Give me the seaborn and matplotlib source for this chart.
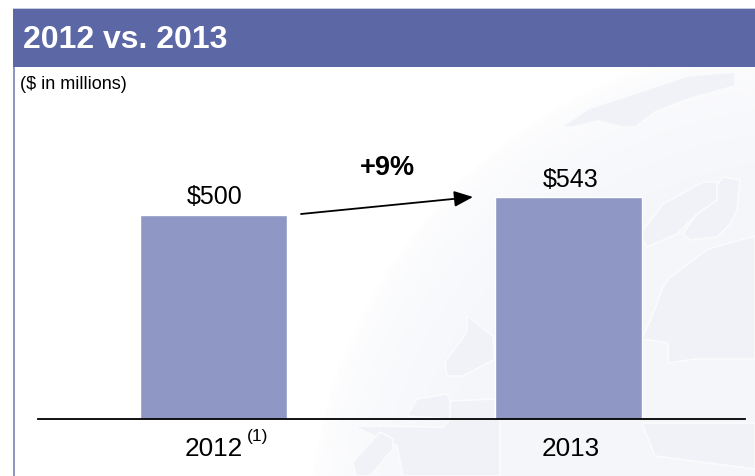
import numpy as np
import pandas as pd
import matplotlib
matplotlib.use("Agg")
import matplotlib.pyplot as plt
from matplotlib.patches import Polygon, Rectangle
from matplotlib.transforms import ScaledTranslation
import seaborn as sns

years = ["2012", "2013"]
revenue = [500, 543]
value_labels = ["$500", "$543"]
growth_label = "+9%"
title_text = "2012 vs. 2013"
units_text = "($ in millions)"
footnote_mark = "(1)"

W, H = 755, 477
sns.set_theme(style="white")
plt.rcParams["font.family"] = ["Liberation Sans", "DejaVu Sans"]

fig = plt.figure(figsize=(W / 100, H / 100), dpi=100, facecolor="white")

# Page layer works in pixel coordinates with the origin at the top left
page = fig.add_axes([0, 0, 1, 1], zorder=0)
page.axis("off")

# Pale globe with a soft fade towards its left limb
yy, xx = np.mgrid[68:H, 0:W]
cx, cy, r = 810, 542, 503
dist = np.hypot(xx - cx, yy - cy)
fade = np.clip((r - dist) / 150, 0, 1) ** 0.5
tint = np.array([0.960, 0.965, 0.982])
rgb = np.ones(fade.shape + (3,))
for i in range(3):
    rgb[..., i] = 1 - (1 - tint[i]) * fade
page.imshow(rgb, extent=(0, W, H, 68), aspect="auto", zorder=0, interpolation="bilinear")
page.set_xlim(0, W)
page.set_ylim(H, 0)

# Landmasses drawn as faint shapes with light coastlines
land = [
    [(562, 128), (588, 110), (628, 97), (688, 77), (735, 73), (735, 87), (688, 100), (655, 113), (635, 128), (622, 128), (598, 122), (572, 128)],
    [(683, 235), (713, 191), (723, 178), (740, 181), (737, 211), (730, 225), (717, 238), (690, 241)],
    [(640, 235), (663, 205), (703, 183), (717, 183), (717, 201), (697, 215), (677, 235), (647, 248)],
    [(668, 280), (708, 250), (755, 237), (755, 360), (695, 360), (668, 364), (668, 344), (642, 340), (655, 310), (662, 290)],
    [(642, 424), (755, 424), (755, 470), (655, 457)],
    [(467, 317), (493, 337), (495, 360), (463, 377), (447, 377), (445, 363), (467, 333)],
    [(407, 417), (417, 400), (447, 395), (453, 407), (450, 420)],
    [(450, 402), (495, 400), (495, 420), (450, 420)],
    [(353, 427), (443, 428), (450, 420), (500, 420), (500, 477), (403, 477), (397, 447)],
    [(353, 463), (380, 433), (393, 440), (393, 450), (370, 477), (356, 477)],
]
for shape in land:
    page.add_patch(Polygon(shape, closed=True, facecolor="#f0f2f7", edgecolor="#fafbfd", lw=1.2, zorder=1))

# Header band and left rule
page.add_patch(Rectangle((13, 10), W - 13, 58, facecolor="#5c67a6", edgecolor="none", zorder=2))
page.add_patch(Rectangle((13, 9), W - 13, 1, facecolor="#c9cce0", edgecolor="none", zorder=2))
page.add_patch(Rectangle((13, 68), 2, H - 68, facecolor="#8f97c4", edgecolor="none", zorder=2))
page.text(23, 39.5, title_text, color="white", fontsize=23, fontweight="bold", va="center", ha="left", zorder=3)
page.text(20, 84.5, units_text, color="black", fontsize=13, va="center", ha="left", zorder=3)

# Chart axes: baseline from x=38 to x=745 at y=419.5
left, right, base, top = 38, 745, 419.5, 68
ax = fig.add_axes([left / W, 1 - base / H, (right - left) / W, (base - top) / H], zorder=1)
ax.patch.set_alpha(0)
df = pd.DataFrame({"year": years, "revenue": revenue})
sns.barplot(data=df, x="year", y="revenue", color="#8f97c4", saturation=1, width=0.413, ax=ax)
ax.set_xlim(-0.4938, 1.4977)
ax.set_ylim(0, (base - top) / 0.407)
ax.set_xlabel("")
ax.set_ylabel("")
ax.set_yticks([])
ax.tick_params(axis="x", length=0, labelsize=18.8, pad=12.5, labelcolor="black")
for name in ("top", "left", "right"):
    ax.spines[name].set_visible(False)
ax.spines["bottom"].set_color("black")
ax.spines["bottom"].set_linewidth(1.3)
value_texts = ax.bar_label(ax.containers[0], labels=value_labels, padding=5, fontsize=18, color="black")

# Nudge the labels of the second column slightly to the right of its centre
value_texts[0].xyann = (1.0, 5)
value_texts[1].xyann = (2.0, 5)
tick_texts = ax.get_xticklabels()
tick_texts[1].set_transform(tick_texts[1].get_transform() + ScaledTranslation(2 / 100, 0, fig.dpi_scale_trans))

# Growth arrow and footnote marker, on top of everything
overlay = fig.add_axes([0, 0, 1, 1], zorder=2)
overlay.set_xlim(0, W)
overlay.set_ylim(H, 0)
overlay.axis("off")
overlay.annotate("", xy=(473, 198), xytext=(301, 215),
                 arrowprops=dict(arrowstyle="-|>,head_length=0.95,head_width=0.4", color="black", lw=1.3,
                                 shrinkA=0, shrinkB=0))
overlay.text(387, 168, growth_label, fontsize=19.5, fontweight="bold", ha="center", va="center", color="black")
overlay.text(246.5, 437, footnote_mark, fontsize=12.5, ha="left", va="center", color="black")

fig.savefig("out.png", dpi=100)
